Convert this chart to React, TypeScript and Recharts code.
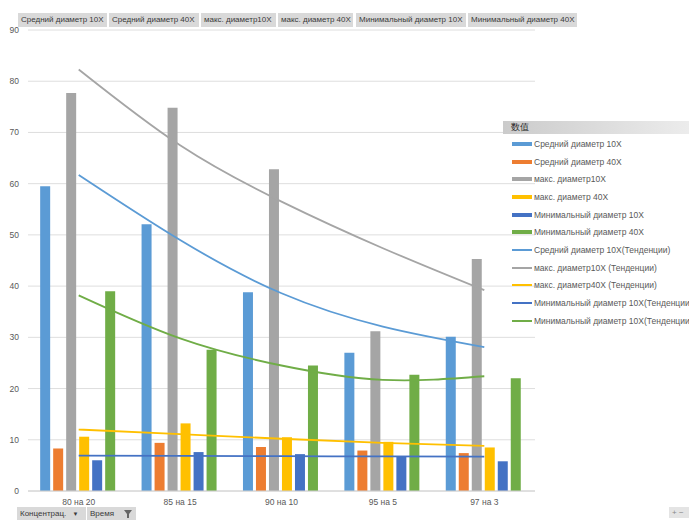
import React from "react";
import { ComposedChart, Bar, Line, XAxis, YAxis, CartesianGrid } from "recharts";

const categories = ["80 на 20", "85 на 15", "90 на 10", "95 на 5", "97 на 3"];

const avg10 = [59.5, 52.1, 38.8, 27.0, 30.1];
const avg40 = [8.3, 9.4, 8.6, 7.9, 7.4];
const max10 = [77.7, 74.8, 62.8, 31.2, 45.3];
const max40 = [10.6, 13.2, 10.5, 9.6, 8.5];
const min10 = [6.0, 7.6, 7.2, 6.7, 5.8];
const min40 = [39.0, 27.6, 24.5, 22.7, 22.0];

// trendline values read at each category
const avg10Trend = [61.7, 49.0, 38.6, 32.1, 28.1];
const max10Trend = [82.3, 67.5, 56.5, 47.4, 39.2];
const max40Trend = [12.0, 11.1, 10.2, 9.4, 8.8];
const min10Trend = [6.9, 6.85, 6.8, 6.75, 6.7];
const min40Trend = [38.2, 29.8, 24.5, 21.7, 22.4];

const yTicks = [0, 10, 20, 30, 40, 50, 60, 70, 80, 90];

const barSeries = [
  { key: "avg10", name: "Средний диаметр 10X", color: "#5B9BD5" },
  { key: "avg40", name: "Средний диаметр 40X", color: "#ED7D31" },
  { key: "max10", name: "макс. диаметр10X", color: "#A5A5A5" },
  { key: "max40", name: "макс. диаметр 40X", color: "#FFC000" },
  { key: "min10", name: "Минимальный диаметр 10X", color: "#4472C4" },
  { key: "min40", name: "Минимальный диаметр 40X", color: "#70AD47" },
];

const trendSeries = [
  { key: "avg10Trend", name: "Средний диаметр 10X(Тенденции)", color: "#5B9BD5" },
  { key: "max10Trend", name: "макс. диаметр10X (Тенденции)", color: "#A5A5A5" },
  { key: "max40Trend", name: "макс. диаметр40X (Тенденции)", color: "#FFC000" },
  { key: "min10Trend", name: "Минимальный диаметр 10X(Тенденции)", color: "#4472C4" },
  { key: "min40Trend", name: "Минимальный диаметр 10X(Тенденции)", color: "#70AD47" },
];

const data = categories.map((c, i) => ({
  name: c,
  avg10: avg10[i],
  avg40: avg40[i],
  max10: max10[i],
  max40: max40[i],
  min10: min10[i],
  min40: min40[i],
  avg10Trend: avg10Trend[i],
  max10Trend: max10Trend[i],
  max40Trend: max40Trend[i],
  min10Trend: min10Trend[i],
  min40Trend: min40Trend[i],
}));

const FONT = "'Liberation Sans', Arial, sans-serif";
const TEXT = "#595959";

const btn: React.CSSProperties = {
  position: "absolute",
  height: 14,
  lineHeight: "14px",
  background: "#d9d9d9",
  color: "#3a3a3a",
  fontSize: 8,
  padding: "0 3px",
  whiteSpace: "nowrap",
  overflow: "hidden",
  boxSizing: "border-box",
};

const topButtons = [
  { x: 18, w: 89 },
  { x: 109, w: 90 },
  { x: 201, w: 75 },
  { x: 278, w: 75 },
  { x: 356, w: 110 },
  { x: 468, w: 109 },
];

export default function App() {
  return (
    <div style={{ position: "absolute", left: 0, top: 0, width: 689, height: 520, background: "#fff", overflow: "hidden", fontFamily: FONT }}>
      <style>{"body{margin:0}"}</style>
      <ComposedChart
        width={689}
        height={520}
        data={data}
        margin={{ top: 30, right: 154, bottom: 11, left: 0 }}
        barCategoryGap="12%"
        barGap={3}
      >
        <CartesianGrid vertical={false} stroke="#dedede" />
        <XAxis
          dataKey="name"
          height={18}
          tickLine={false}
          axisLine={{ stroke: "#d0d0d0" }}
          tick={{ fontSize: 8.5, fill: TEXT, fontFamily: FONT }}
        />
        <YAxis
          width={28}
          domain={[0, 90]}
          ticks={yTicks}
          axisLine={false}
          tickLine={false}
          tickMargin={3}
          tick={{ fontSize: 8.5, fill: TEXT, fontFamily: FONT }}
        />
        {barSeries.map((s) => (
          <Bar key={s.key} dataKey={s.key} name={s.name} fill={s.color} isAnimationActive={false} />
        ))}
        {trendSeries.map((s) => (
          <Line
            key={s.key}
            dataKey={s.key}
            name={s.name}
            type="natural"
            stroke={s.color}
            strokeWidth={1.8}
            dot={false}
            activeDot={false}
            isAnimationActive={false}
          />
        ))}
      </ComposedChart>

      {/* field buttons on top */}
      {barSeries.map((s, i) => (
        <div key={s.key} style={{ ...btn, left: topButtons[i].x, top: 13, width: topButtons[i].w }}>
          {s.name}
        </div>
      ))}

      {/* legend */}
      <div style={{ position: "absolute", left: 503, top: 121, width: 186, height: 13, background: "linear-gradient(to right, #cbcbcb, #ececec)", fontSize: 8.5, lineHeight: "13px", color: "#222", paddingLeft: 8, boxSizing: "border-box" }}>
        数值
      </div>
      {[...barSeries.map((s) => ({ ...s, bar: true })), ...trendSeries.map((s) => ({ ...s, bar: false }))].map((s, i) => (
        <div key={s.key + i} style={{ position: "absolute", left: 512, top: 144 + i * 17.65 - 6, height: 12, display: "flex", alignItems: "center", whiteSpace: "nowrap", fontSize: 8.5, color: TEXT }}>
          <div style={{ width: 20, height: s.bar ? 4 : 2, background: s.color, marginRight: 2 }} />
          <span>{s.name}</span>
        </div>
      ))}

      {/* bottom field buttons */}
      <div style={{ ...btn, left: 17, top: 507, width: 69, height: 13, lineHeight: "13px" }}>
        Концентрац. <span style={{ fontSize: 6, marginLeft: 4 }}>▼</span>
      </div>
      <div style={{ ...btn, left: 87, top: 507, width: 49, height: 13, lineHeight: "13px" }}>
        Время
        <svg width="8" height="8" style={{ position: "absolute", right: 4, top: 3 }}>
          <path d="M0 0 H8 L5 4 V8 H3 V4 Z" fill="#666" />
        </svg>
      </div>
      <div style={{ ...btn, left: 669, top: 507, width: 20, height: 11, lineHeight: "11px", background: "#e4e4e4", color: "#888", fontSize: 8 }}>
        + −
      </div>
    </div>
  );
}
